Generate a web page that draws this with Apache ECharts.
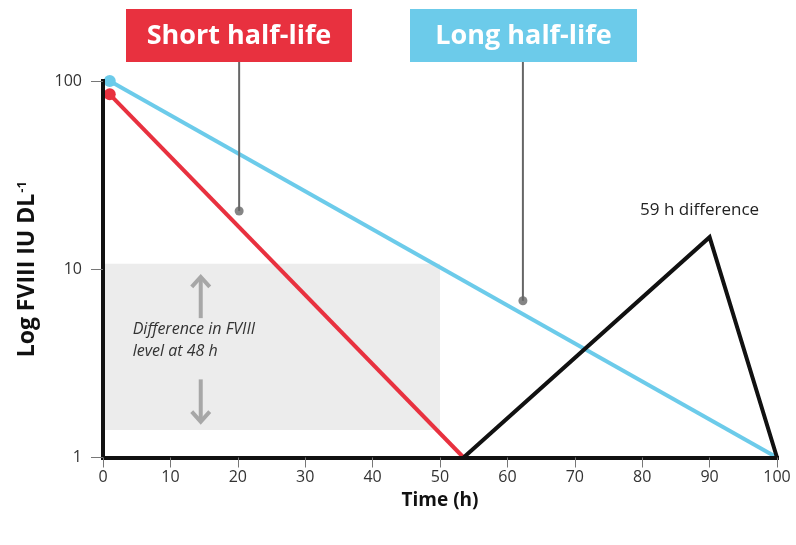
<!DOCTYPE html>
<html>
<head>
<meta charset="utf-8">
<script src="https://cdn.jsdelivr.net/npm/echarts@6/dist/echarts.min.js"></script>
<style>
html,body{margin:0;padding:0;background:#fff;}
#chart{width:796px;height:545px;}
</style>
</head>
<body>
<div id="chart"></div>
<script>
// ---- data ----
const timeTicks = [0, 10, 20, 30, 40, 50, 60, 70, 80, 90, 100];
const levelTicks = [1, 10, 100];
const longTime = [1, 100];
const longLevel = [100, 1];
const shortTime = [1, 53.5];
const shortLevel = [85, 1];
const diffTime = [53.5, 90, 100];
const diffLevel = [1, 14.8, 1];
const boxTime = [0, 50];
const boxLevel = [10.7, 1.4];
const calloutTime = [20.2, 62.3];
const calloutLevel = [20.4, 6.8];
const arrowTime = 14.5;
const upArrowLevel = [5.5, 9.1];
const downArrowLevel = [2.6, 1.55];
const noteTime = [4.4];
const noteLevel = [4.2];
const labels = {
  short: 'Short half-life',
  long: 'Long half-life',
  diff: '59 h difference',
  note: ['Difference in FVIII', 'level at 48 h'],
  xName: 'Time (h)'
};

const RED = '#e8313f', BLUE = '#6ccbea', BLACK = '#111111', GREY = '#a7a7a7';
const FONT = 'Open Sans';

const zip = (a, b) => a.map((v, i) => [v, b[i]]);

const chart = echarts.init(document.getElementById('chart'), null, {renderer: 'canvas'});

const option = {
  animation: false,
  backgroundColor: '#ffffff',
  grid: {left: 103, top: 81, right: 19, bottom: 87.5},
  xAxis: {
    type: 'value', min: timeTicks[0], max: timeTicks[timeTicks.length - 1], interval: 10,
    z: 8,
    axisLine: {lineStyle: {color: BLACK, width: 4, cap: 'square'}},
    axisTick: {show: true, length: 10, lineStyle: {color: '#777', width: 1}},
    axisLabel: {fontSize: 16, color: '#333', margin: 12, fontFamily: FONT},
    splitLine: {show: false},
    name: labels.xName, nameLocation: 'middle', nameGap: 34,
    nameTextStyle: {fontSize: 19, fontWeight: 'bold', color: BLACK, fontFamily: FONT}
  },
  yAxis: {
    type: 'log', logBase: 10, min: levelTicks[0], max: levelTicks[levelTicks.length - 1],
    offset: 2, z: 8,
    axisLine: {lineStyle: {color: BLACK, width: 4, cap: 'square'}},
    axisTick: {show: true, length: 12, lineStyle: {color: '#777', width: 1}},
    minorTick: {show: false},
    axisLabel: {fontSize: 16, color: '#333', margin: 19, fontFamily: FONT},
    splitLine: {show: false},
    name: 'Log FVIII IU DL{sup|-1}', nameLocation: 'middle', nameGap: 62,
    nameTextStyle: {
      fontSize: 23, fontWeight: 'bold', color: BLACK, fontFamily: FONT,
      rich: {sup: {fontSize: 13, fontWeight: 'bold', color: BLACK, fontFamily: FONT, verticalAlign: 'top', padding: [0, 0, 9, 1]}}
    }
  },
  series: [
    {
      type: 'line', z: 1, data: [], silent: true,
      markArea: {
        silent: true,
        itemStyle: {color: '#ececec'},
        data: [[{coord: [boxTime[0], boxLevel[0]]}, {coord: [boxTime[1], boxLevel[1]]}]]
      }
    },
    {
      type: 'line', z: 3,
      data: zip(longTime, longLevel).map((p, i) => ({value: p, symbol: i === 0 ? 'circle' : 'none', symbolSize: 12})),
      lineStyle: {color: BLUE, width: 4}, itemStyle: {color: BLUE}, showSymbol: true
    },
    {
      type: 'line', z: 3,
      data: zip(shortTime, shortLevel).map((p, i) => ({value: p, symbol: i === 0 ? 'circle' : 'none', symbolSize: 12})),
      lineStyle: {color: RED, width: 4}, itemStyle: {color: RED}, showSymbol: true
    },
    {
      type: 'line', z: 4, data: zip(diffTime, diffLevel), symbol: 'none',
      lineStyle: {color: BLACK, width: 4, join: 'miter'}
    },
    {
      type: 'scatter', z: 5, data: zip(calloutTime, calloutLevel), symbolSize: 9,
      itemStyle: {color: '#666'}
    }
  ]
};
chart.setOption(option);

const px = (x, y) => chart.convertToPixel({gridIndex: 0}, [x, y]);

const graphics = [];
// label boxes
const boxes = [
  {text: labels.short, color: RED, x: 126, w: 226, idx: 0},
  {text: labels.long, color: BLUE, x: 410, w: 227, idx: 1}
];
boxes.forEach(b => {
  const dot = px(calloutTime[b.idx], calloutLevel[b.idx]);
  graphics.push({
    type: 'line', z: 10,
    shape: {x1: dot[0], y1: 62, x2: dot[0], y2: dot[1]},
    style: {stroke: '#666', lineWidth: 2}
  });
  graphics.push({
    type: 'rect', z: 11,
    shape: {x: b.x, y: 9, width: b.w, height: 53},
    style: {fill: b.color}
  });
  graphics.push({
    type: 'text', z: 12, x: b.x + b.w / 2, y: 36,
    style: {text: b.text, fill: '#fff', font: 'bold 27px "' + FONT + '"', textAlign: 'center', textVerticalAlign: 'middle'}
  });
});

// arrows
const arrow = (from, to) => {
  const a = px(arrowTime, from), b = px(arrowTime, to);
  const dir = b[1] < a[1] ? 1 : -1;
  graphics.push({type: 'line', z: 6, shape: {x1: a[0], y1: a[1], x2: b[0], y2: b[1] + dir * 2}, style: {stroke: GREY, lineWidth: 4}});
  graphics.push({type: 'polyline', z: 6, shape: {points: [[b[0] - 9, b[1] + dir * 10], [b[0], b[1]], [b[0] + 9, b[1] + dir * 10]]}, style: {stroke: GREY, lineWidth: 4, fill: null}});
};
arrow(upArrowLevel[0], upArrowLevel[1]);
arrow(downArrowLevel[0], downArrowLevel[1]);

// note text
const np = px(noteTime[0], noteLevel[0]);
graphics.push({
  type: 'text', z: 7, x: np[0], y: np[1],
  style: {text: labels.note.join('\n'), fill: '#333', font: 'italic 16px "' + FONT + '"', lineHeight: 22, textAlign: 'left', textVerticalAlign: 'middle'}
});

// 59 h difference
const pk = px(diffTime[1], diffLevel[1]);
graphics.push({
  type: 'text', z: 7, x: pk[0] - 10, y: pk[1] - 27,
  style: {text: labels.diff, fill: '#222', font: '17px "' + FONT + '"', textAlign: 'center', textVerticalAlign: 'middle'}
});

chart.setOption({graphic: graphics});
</script>
</body>
</html>
